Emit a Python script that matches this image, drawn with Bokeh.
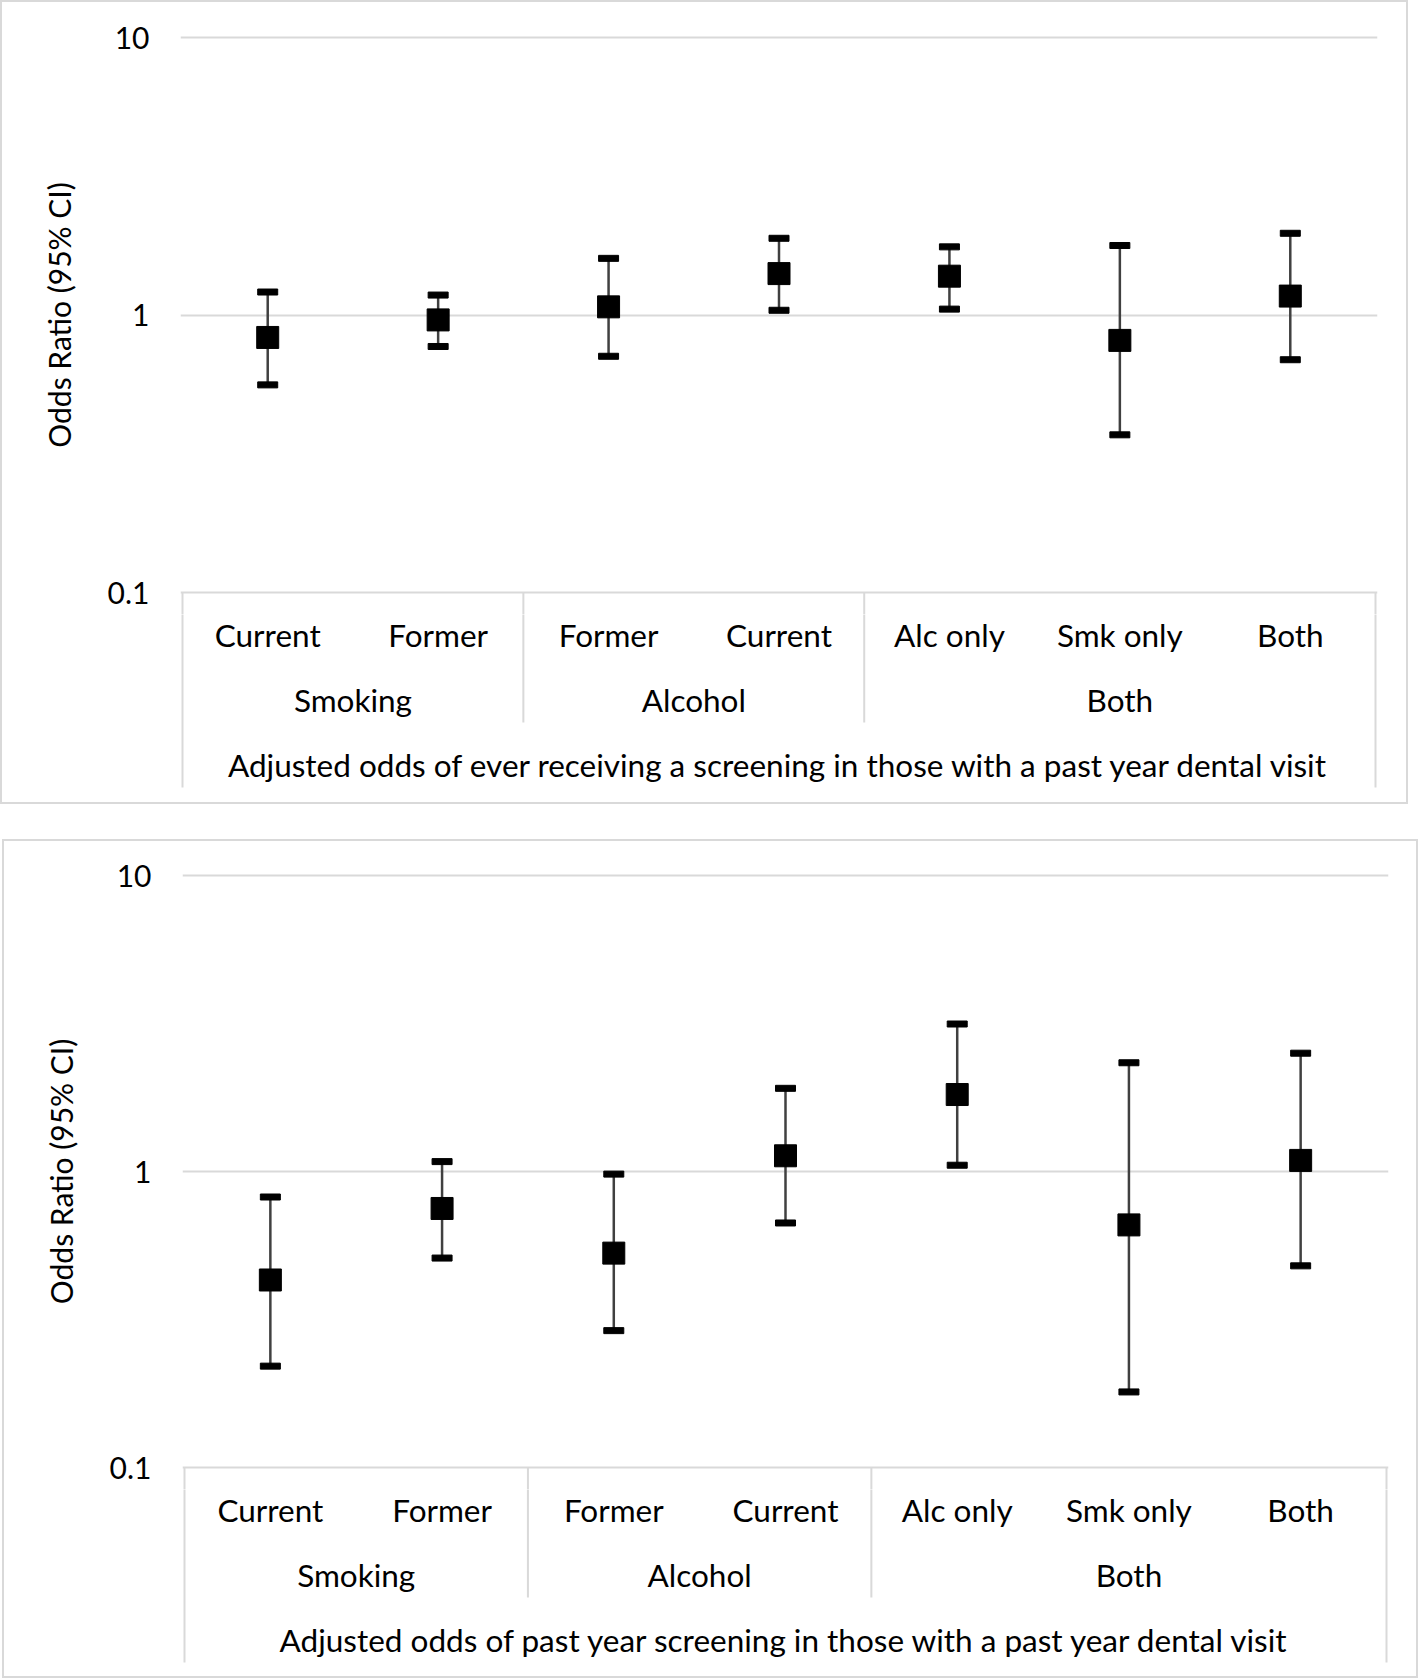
from bokeh.plotting import figure
from bokeh.layouts import column, row
from bokeh.models import Range1d, FixedTicker, PrintfTickFormatter, ColumnDataSource, Spacer
from bokeh.core.properties import value
from bokeh.embed import file_html
from bokeh.resources import INLINE

# ---------------- data ----------------
GROUPS = ["Smoking", "Smoking", "Alcohol", "Alcohol", "Both", "Both", "Both"]
SUBCATS = ["Current", "Former", "Former", "Current", "Alc only", "Smk only", "Both"]

# panel 1: ever receiving a screening
OR_EVER = [0.83, 0.96, 1.07, 1.41, 1.38, 0.81, 1.17]
LO_EVER = [0.56, 0.77, 0.71, 1.04, 1.05, 0.37, 0.69]
HI_EVER = [1.21, 1.18, 1.60, 1.89, 1.76, 1.78, 1.97]

# panel 2: past year screening
OR_PAST = [0.43, 0.75, 0.53, 1.13, 1.82, 0.66, 1.09]
LO_PAST = [0.22, 0.51, 0.29, 0.67, 1.05, 0.18, 0.48]
HI_PAST = [0.82, 1.08, 0.98, 1.91, 3.15, 2.33, 2.51]

Y_TICKS = [0.1, 1, 10]
Y_LABEL = "Odds Ratio (95% CI)"
TITLE_EVER = "Adjusted odds of ever receiving a screening in those with a past year dental visit"
TITLE_PAST = "Adjusted odds of past year screening in those with a past year dental visit"

# ---------------- style ----------------
FONT = value("Lato")
FS_AXIS = "30px"
FS_CAT = "31.5px"
GRID = "#d9d9d9"
WHISK = "#404040"
N = len(SUBCATS)

# vertical layout of the category box (px below the lowest gridline)
ROW_SUB, ROW_GRP, ROW_TITLE = -42, -107, -172
SEP_END, BOX_END = -130, -195
PAD = 22  # px of frame beyond the 10 and 0.1 gridlines


def bar(w, h):
    return Spacer(width=w, height=h, margin=0,
                  styles={"background-color": GRID})


def make_panel(or_vals, lo_vals, hi_vals, title, W, H, cat_left, cat_w, y10, dec):
    fl = cat_left - 2
    fw = cat_w + 4
    right = W - fl - fw
    ext = 2.0 * N / cat_w
    xr = Range1d(-ext, N + ext)
    frame_top = y10 - PAD
    y01 = int(round(y10 + 2 * dec))
    a_h = y01 + PAD
    y_end = Y_TICKS[-1] * 10 ** (PAD / dec)
    y_start = Y_TICKS[0] / 10 ** (PAD / dec)

    xs = [i + 0.5 for i in range(N)]
    src = ColumnDataSource(dict(x=xs, orv=or_vals, lo=lo_vals, hi=hi_vals))

    a = figure(width=W, height=a_h, title=None,
               x_range=xr, y_range=Range1d(y_start, y_end),
               y_axis_type="log", x_axis_type=None,
               output_backend="svg", toolbar_location=None,
               min_border_left=fl, min_border_right=right,
               min_border_top=frame_top, min_border_bottom=0)
    a.outline_line_color = None
    a.background_fill_color = "white"
    a.border_fill_color = "white"
    ax = a.yaxis[0]
    ax.ticker = FixedTicker(ticks=Y_TICKS)
    ax.formatter = PrintfTickFormatter(format="%g")
    ax.axis_line_color = None
    ax.major_tick_line_color = None
    ax.minor_tick_line_color = None
    ax.major_tick_out = 0
    ax.major_tick_in = 0
    ax.major_label_standoff = 31
    ax.major_label_text_font = "Lato"
    ax.major_label_text_font_size = FS_AXIS
    ax.major_label_text_color = "black"
    ax.axis_label = Y_LABEL
    ax.axis_label_text_font = "Lato"
    ax.axis_label_text_font_size = FS_AXIS
    ax.axis_label_text_font_style = "normal"
    ax.axis_label_text_color = "black"
    ax.axis_label_standoff = 28
    a.ygrid.grid_line_color = GRID
    a.ygrid.grid_line_width = 2

    seps = [i for i in range(1, N) if GROUPS[i] != GROUPS[i - 1]]
    sides = [0, N]
    # top part of the category box lines (inside the upper figure)
    a.segment(x0=seps + sides, y0=[Y_TICKS[0]] * (len(seps) + 2),
              x1=seps + sides, y1=[y_start / 2] * (len(seps) + 2),
              line_color=GRID, line_width=2)

    a.segment(x0="x", y0="lo", x1="x", y1="hi", source=src,
              line_color=WHISK, line_width=2.5)
    a.rect(x="x", y="lo", width=20, height=6, width_units="screen",
           height_units="screen", source=src, fill_color="black", line_color="black")
    a.rect(x="x", y="hi", width=20, height=6, width_units="screen",
           height_units="screen", source=src, fill_color="black", line_color="black")
    a.scatter(x="x", y="orv", source=src, marker="square", size=22,
              fill_color="black", line_color="black")

    # rest of the category box below
    b_frame = -BOX_END - PAD
    b_h = H - a_h
    b = figure(width=W, height=b_h, title=None,
               x_range=xr, y_range=Range1d(BOX_END, -PAD),
               x_axis_type=None, y_axis_type=None,
               output_backend="svg", toolbar_location=None,
               min_border_left=fl, min_border_right=right,
               min_border_top=0, min_border_bottom=b_h - b_frame)
    b.outline_line_color = None
    b.background_fill_color = "white"
    b.border_fill_color = "white"

    b.segment(x0=seps, y0=[0] * len(seps), x1=seps, y1=[SEP_END] * len(seps),
              line_color=GRID, line_width=2)
    b.segment(x0=sides, y0=[0, 0], x1=sides, y1=[BOX_END - 5] * 2,
              line_color=GRID, line_width=2)

    b.text(x=xs, y=[ROW_SUB] * N, text=SUBCATS, text_align="center",
           text_baseline="middle", text_font=FONT, text_font_size=FS_CAT,
           text_color="black")
    names = []
    for g in GROUPS:
        if g not in names:
            names.append(g)
    gx = []
    for g in names:
        idx = [i for i in range(N) if GROUPS[i] == g]
        gx.append((min(idx) + max(idx) + 1) / 2.0)
    b.text(x=gx, y=[ROW_GRP] * len(names), text=names, text_align="center",
           text_baseline="middle", text_font=FONT, text_font_size=FS_CAT,
           text_color="black")
    b.text(x=[N / 2.0], y=[ROW_TITLE], text=[title], text_align="center",
           text_baseline="middle", text_font=FONT, text_font_size=FS_CAT,
           text_color="black")

    inner = column(a, b, spacing=0)
    return column(bar(W + 4, 2),
                  row(bar(2, H), inner, bar(2, H), spacing=0),
                  bar(W + 4, 2), spacing=0)


p1 = make_panel(OR_EVER, LO_EVER, HI_EVER, TITLE_EVER,
                W=1404, H=800, cat_left=180, cat_w=1193, y10=35, dec=277.5)
p2 = make_panel(OR_PAST, LO_PAST, HI_PAST, TITLE_PAST,
                W=1412, H=835, cat_left=180, cat_w=1202, y10=34, dec=296)

page = column(p1, row(Spacer(width=2, height=839, margin=0), p2, spacing=0),
              spacing=35)

open("out.html", "w").write(file_html(page, INLINE))
